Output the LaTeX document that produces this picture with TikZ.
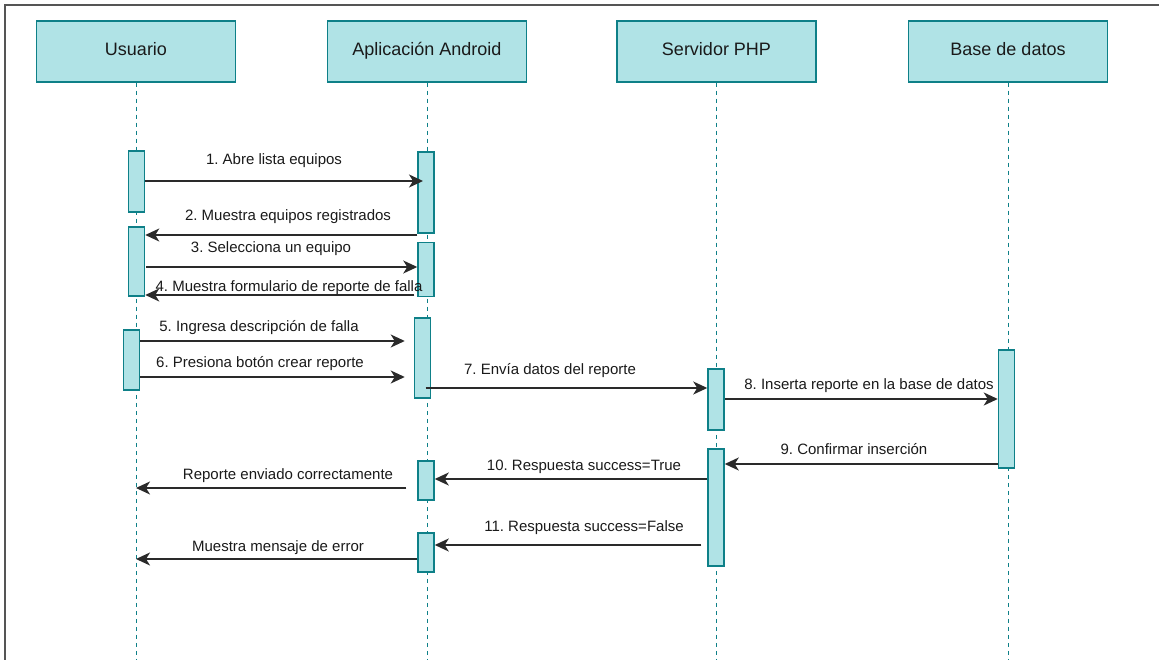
\documentclass[tikz,border=0pt]{standalone}
\usepackage{fontspec}
\setmainfont{Liberation Sans}
\usetikzlibrary{arrows.meta,calc}
\definecolor{tealfill}{HTML}{B0E3E6}
\definecolor{tealdraw}{HTML}{0E8088}
\definecolor{framecol}{HTML}{555555}
\definecolor{msgline}{HTML}{2A2A2A}
\definecolor{txtcol}{HTML}{1A1A1A}
\frenchspacing
\begin{document}
\begin{tikzpicture}[x=1pt,y=-1pt,
 head/.style={draw=tealdraw, fill=tealfill, line width=1.5pt, minimum width=199pt, minimum height=61pt, inner sep=0pt, text=txtcol, font=\fontsize{18}{21}\selectfont, text height=12.5pt, text depth=3.5pt},
 bar/.style={draw=tealdraw, fill=tealfill, line width=1.5pt, minimum width=16pt, inner sep=0pt},
 life/.style={draw=tealdraw, line width=1pt, dash pattern=on 4pt off 4pt},
 msg/.style={draw=msgline, line width=1.7pt, -{Stealth[length=14pt,width=13pt,inset=4pt]}},
 lbl/.style={font=\fontsize{15}{18}\selectfont, text=txtcol, anchor=base, inner sep=0pt},
 framestyle/.style={draw=framecol, line width=2pt}
]
\useasboundingbox (0,0) rectangle (1159,660);
\draw[framestyle] (5,660) -- (5,5) -- (1159,5);

% headers
\node[head] (u) at (136,51.5) {Usuario};
\node[head] (app) at (427,51.5) {Aplicación Android};
\node[head] (srv) at (716.5,51.5) {Servidor PHP};
\node[head] (db) at (1008,51.5) {Base de datos};

\coordinate (bottom) at (0,660);
\draw[life] (u.south) -- (u.south |- bottom);
\draw[life] (app.south) -- (app.south |- bottom);
\draw[life] (srv.south) -- (srv.south |- bottom);
\draw[life] (db.south) -- (db.south |- bottom);

% activation bars
\node[bar, minimum height=61pt] (a1) at (136.5,181.5) {};
\node[bar, minimum height=69pt] (a2) at (136.5,261.5) {};
\node[bar, minimum height=60pt] (a3) at (131.5,360) {};
\node[bar, minimum height=81pt] (b1) at (426,192.5) {};
\node[bar, minimum height=54pt] (b2) at (426,269.5) {};
\node[bar, minimum height=80pt] (b3) at (422.5,358) {};
\node[bar, minimum height=39pt] (b4) at (426,480.5) {};
\node[bar, minimum height=39pt] (b5) at (426,552.5) {};
\node[bar, minimum height=61pt] (c1) at (716,399.5) {};
\node[bar, minimum height=117pt] (c2) at (716,507.5) {};
\node[bar, minimum height=118pt] (d1) at (1006.5,409) {};

% rows
\coordinate (r1) at (0,181);
\coordinate (r2) at (0,235);
\coordinate (r3) at (0,267);
\coordinate (r4) at (0,295);
\coordinate (r5) at (0,341);
\coordinate (r6) at (0,377);
\coordinate (r7) at (0,388);
\coordinate (r8) at (0,399);
\coordinate (r9) at (0,464);
\coordinate (r10) at (0,479);
\coordinate (r11) at (0,545);
\coordinate (r12) at (0,488);
\coordinate (r13) at (0,559);

% messages
\draw[msg] (a1.east |- r1) -- ($(b1.center |- r1)+(-3,0)$);
\draw[msg] (b1.west |- r2) -- (a2.east |- r2);
\draw[msg] ($(a2.east |- r3)+(1,0)$) -- (b2.west |- r3);
\draw[msg] ($(b2.west |- r4)+(-3,0)$) -- (a2.east |- r4);
\draw[msg] (a3.east |- r5) -- ($(b3.west |- r5)+(-9,0)$);
\draw[msg] (a3.east |- r6) -- ($(b3.west |- r6)+(-9,0)$);
\draw[msg] ($(b3.center |- r7)+(3,0)$) -- (c1.west |- r7);
\draw[msg] (c1.east |- r8) -- (d1.west |- r8);
\draw[msg] (d1.west |- r9) -- (c2.east |- r9);
\draw[msg] (c2.west |- r10) -- (b4.east |- r10);
\draw[msg] ($(c2.west |- r11)+(-6,0)$) -- (b5.east |- r11);
\draw[msg] ($(b4.west |- r12)+(-11,0)$) -- (u.center |- r12);
\draw[msg] (b5.west |- r13) -- (u.center |- r13);

% labels
\node[lbl] (l1) at (274,165) {1. Abre lista equipos};
\node[lbl] (l2) at (288,221) {2. Muestra equipos registrados};
\node[lbl] (l3) at (271,253) {3. Selecciona un equipo};
\node[lbl] (l4) at (289,291) {4. Muestra formulario de reporte de falla};
\node[lbl] (l5) at (259,331) {5. Ingresa descripción de falla};
\node[lbl] (l6) at (260,367) {6. Presiona botón crear reporte};
\node[lbl] (l7) at (550,374) {7. Envía datos del reporte};
\node[lbl] (l8) at (869,389) {8. Inserta reporte en la base de datos};
\node[lbl] (l9) at (854,454) {9. Confirmar inserción};
\node[lbl] (l10) at (584,470) {10. Respuesta success=True};
\node[lbl] (l11) at (584,531) {11. Respuesta success=False};
\node[lbl] (l12) at (288,479) {Reporte enviado correctamente};
\node[lbl] (l13) at (278,551) {Muestra mensaje de error};
\end{tikzpicture}
\end{document}
